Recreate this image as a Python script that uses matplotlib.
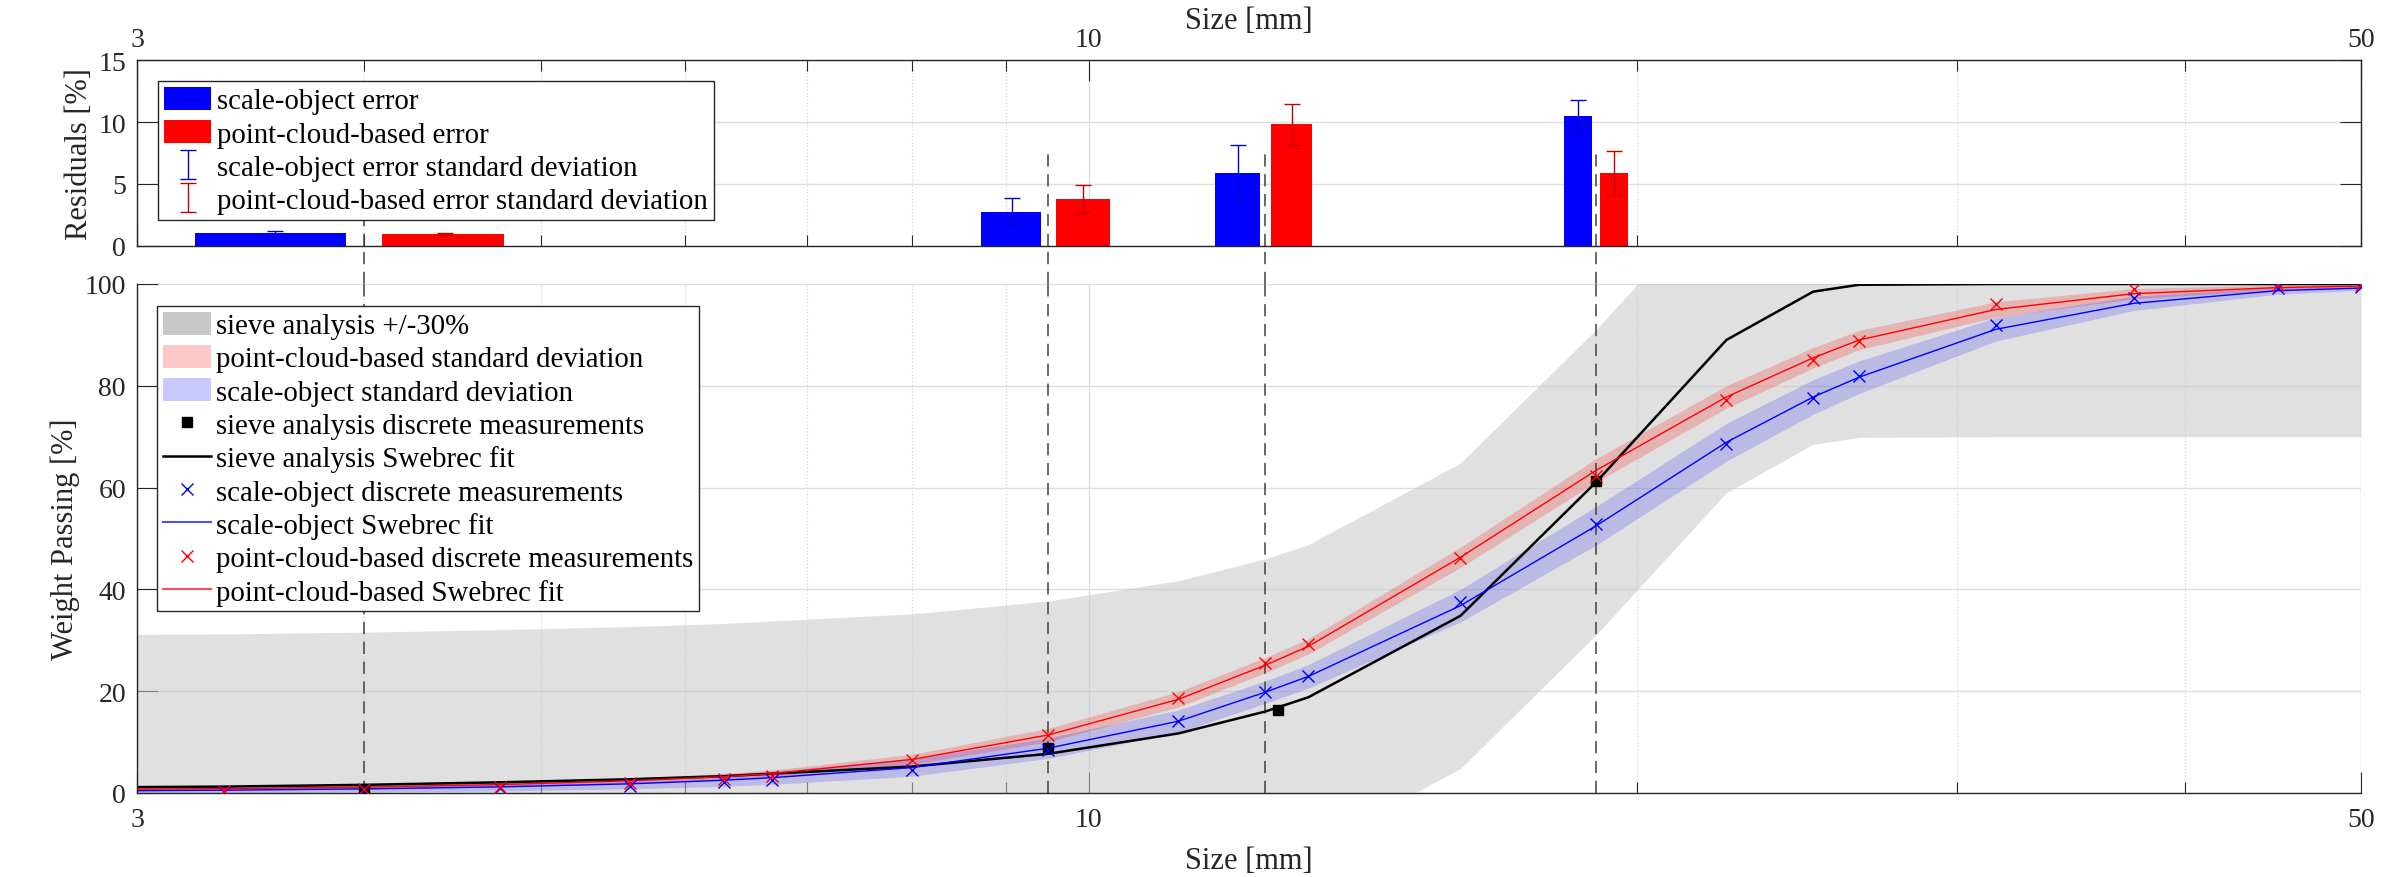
import numpy as np
import matplotlib
matplotlib.use('Agg')
import matplotlib.pyplot as plt
from matplotlib.patches import Patch
from matplotlib.lines import Line2D
from matplotlib.transforms import blended_transform_factory

plt.rcParams['font.family'] = ['Liberation Serif', 'DejaVu Serif']
txt_col = '#262626'

# residuals per sieve size (top panel)
sieve_sizes = [4, 9.5, 12.5, 19]
res_scale = [1.05, 2.75, 5.85, 10.45]
res_scale_std = [0.13, 1.10, 2.28, 1.35]
res_cloud = [0.95, 3.77, 9.80, 5.90]
res_cloud_std = [0.08, 1.13, 1.63, 1.80]

# sieve analysis
sieve_x = [4, 9.5, 12.7, 19]
sieve_y = [0.5, 8.9, 16.3, 61.3]

# Swebrec fits
fit_x = [3, 3.35, 4, 4.75, 5.6, 6.3, 6.7, 8, 9.5, 11.2, 12.5, 13.2, 16, 19,
         22.4, 25, 26.5, 31.5, 37.5, 45, 50]
fit_sieve = [1.15, 1.25, 1.6, 2.1, 2.7, 3.3, 3.8, 5.2, 7.7, 11.7, 16.0, 18.8,
             34.8, 61.1, 89.0, 98.5, 99.85, 100, 100, 100, 100]
fit_cloud = [0.75, 0.85, 1.15, 1.65, 2.4, 3.2, 3.8, 6.6, 11.4, 18.4, 25.1, 28.8,
             46.3, 63.4, 77.8, 85.5, 89.0, 95.0, 98.1, 99.3, 99.6]
fit_scale = [0.45, 0.55, 0.8, 1.2, 1.8, 2.5, 3.0, 5.0, 8.8, 14.1, 19.8, 22.9,
             36.8, 52.5, 68.9, 77.8, 81.7, 91.1, 96.2, 98.7, 99.2]
std_cloud = [0.3, 0.3, 0.35, 0.45, 0.55, 0.65, 0.7, 1.0, 1.3, 1.5, 1.5, 1.5,
             2.0, 2.3, 2.2, 2.0, 1.9, 1.5, 1.0, 0.5, 0.3]
std_scale = [0.5, 0.5, 0.6, 0.8, 1.0, 1.2, 1.3, 1.7, 2.0, 2.2, 2.2, 2.3,
             3.2, 3.8, 3.7, 3.4, 3.2, 2.3, 1.4, 0.7, 0.4]

# discrete measurements
meas_x = [3.35, 4, 4.75, 5.6, 6.3, 6.7, 8, 9.5, 11.2, 12.5, 13.2, 16, 19,
          22.4, 25, 26.5, 31.5, 37.5, 45, 50]
meas_cloud = [0.35, 0.7, 1.2, 2.0, 2.7, 3.4, 6.5, 11.3, 18.6, 25.5, 29.3, 46.1,
              62.3, 77.2, 85.1, 88.8, 96.0, 99.1, 99.9, 99.8]
meas_scale = [0.1, 0.5, 0.9, 1.3, 2.1, 2.6, 4.5, 8.5, 14.2, 19.8, 23.0, 37.5,
              52.8, 68.5, 77.6, 81.9, 91.9, 97.3, 99.3, 99.5]

fig = plt.figure(figsize=(23.92, 8.78), dpi=100)
ax1 = fig.add_axes([0.0573, 0.7187, 0.9298, 0.2118])
ax2 = fig.add_axes([0.0573, 0.0957, 0.9298, 0.5797])

minor_x = [4, 5, 6, 7, 8, 9, 20, 30, 40]


def style_axis(ax):
    ax.set_xscale('log')
    ax.set_xlim(3, 50)
    ax.set_xticks([3, 10, 50])
    ax.set_xticklabels(['3', '10', '50'])
    ax.set_xticks(minor_x, minor=True)
    ax.set_xticklabels([], minor=True)
    ax.set_axisbelow(True)
    ax.grid(True, which='major', color='#dedede', lw=1.0, ls='-')
    ax.grid(True, which='minor', axis='x', color='#d4d4d4', lw=0.9, ls=':')
    ax.tick_params(which='major', direction='in', length=15, width=0.8,
                   colors=txt_col, labelsize=20, pad=8)
    ax.tick_params(which='minor', direction='in', length=8, width=0.8,
                   colors=txt_col)
    for s in ax.spines.values():
        s.set_color(txt_col)
        s.set_linewidth(1.0)


leg_kw = dict(loc='upper left', borderaxespad=0, fontsize=20.8, frameon=True,
              fancybox=False, framealpha=1, edgecolor=txt_col, handlelength=1.65,
              handleheight=0.85, handletextpad=0.2, labelspacing=0.2,
              borderpad=0.2)

# ---------------- top: residuals ----------------
style_axis(ax1)
sz = np.array(sieve_sizes)
ax1.bar(sz - 0.43, res_scale, width=0.68, color='#0000ff', zorder=2)
ax1.bar(sz + 0.43, res_cloud, width=0.68, color='#ff0000', zorder=2)
eb1 = ax1.errorbar(sz - 0.43, res_scale, yerr=res_scale_std, fmt='none',
                   ecolor='#0000cc', elinewidth=1.0, capsize=6, capthick=1.0, zorder=3)
eb2 = ax1.errorbar(sz + 0.43, res_cloud, yerr=res_cloud_std, fmt='none',
                   ecolor='#c00000', elinewidth=1.0, capsize=6, capthick=1.0, zorder=3)
ax1.set_ylim(0, 15)
ax1.set_yticks([0, 5, 10, 15])
ax1.tick_params(axis='x', which='both', top=True, bottom=True,
                labeltop=True, labelbottom=False)
ax1.tick_params(axis='x', which='major', pad=6)
ax1.tick_params(axis='y', which='both', left=True, right=True)
ax1.xaxis.set_label_position('top')
ax1.set_xlabel('Size [mm]', fontsize=22, color=txt_col)
ax1.xaxis.set_label_coords(0.5, 1.17)
ax1.set_ylabel('Residuals [%]', fontsize=22, color=txt_col, labelpad=3)
for s in sieve_sizes:
    ax1.axvline(s, ymin=0, ymax=8 / 15, color='#404040', lw=1.1,
                dashes=(8, 5), zorder=1.8)

h_top = [Patch(facecolor='#0000ff', edgecolor='none'),
         Patch(facecolor='#ff0000', edgecolor='none'), eb1, eb2]
l_top = ['scale-object error', 'point-cloud-based error',
         'scale-object error standard deviation',
         'point-cloud-based error standard deviation']
leg1 = ax1.legend(h_top, l_top, bbox_to_anchor=(0.0094, 0.887), **leg_kw)
leg1.get_frame().set_linewidth(1.0)

# ---------------- bottom: weight passing ----------------
style_axis(ax2)
ax2.spines['top'].set_visible(False)
ax2.spines['right'].set_visible(False)
fx = np.array(fit_x)
fs = np.array(fit_sieve)
ax2.fill_between(fx, fs - 30, fs + 30, color='#c8c8c8', alpha=0.55,
                 lw=0, zorder=1)
ax2.fill_between(fx, np.array(fit_cloud) - std_cloud,
                 np.array(fit_cloud) + std_cloud, color='#ff0000',
                 alpha=0.2, lw=0, zorder=1.2)
ax2.fill_between(fx, np.array(fit_scale) - std_scale,
                 np.array(fit_scale) + std_scale, color='#0000ff',
                 alpha=0.17, lw=0, zorder=1.2)
for s in sieve_sizes:
    ax2.axvline(s, color='#404040', lw=1.1, dashes=(8, 5), zorder=1.8)
ax2.plot(fit_x, fit_sieve, color='black', lw=1.8, zorder=2.2)
ax2.plot(sieve_x, sieve_y, ls='none', marker='s', ms=7.5, color='black', zorder=3)
ax2.plot(fit_x, fit_scale, color='#0000ff', lw=1.0, zorder=2.3)
ax2.plot(meas_x, meas_scale, ls='none', marker='x', ms=8, mew=1.0,
         color='#0000ff', zorder=3)
ax2.plot(fit_x, fit_cloud, color='#ff0000', lw=1.0, zorder=2.4)
ax2.plot(meas_x, meas_cloud, ls='none', marker='x', ms=8, mew=1.0,
         color='#ff0000', zorder=3.1)
ax2.set_ylim(0, 100)
ax2.set_yticks([0, 20, 40, 60, 80, 100])
ax2.tick_params(axis='x', which='both', top=False, bottom=True)
ax2.tick_params(axis='x', which='major', pad=10)
ax2.tick_params(axis='y', which='both', left=True, right=False)
ax2.set_xlabel('Size [mm]', fontsize=22, color=txt_col, labelpad=10)
ax2.set_ylabel('Weight Passing [%]', fontsize=22, color=txt_col, labelpad=3)

h_bot = [Patch(facecolor='#c8c8c8', edgecolor='none'),
         Patch(facecolor='#ffc8c8', edgecolor='none'),
         Patch(facecolor='#c8c8ff', edgecolor='none'),
         Line2D([], [], ls='none', marker='s', ms=7.5, color='black'),
         Line2D([], [], color='black', lw=1.8),
         Line2D([], [], ls='none', marker='x', ms=8, mew=1.0, color='#0000ff'),
         Line2D([], [], color='#5050ff', lw=1.5),
         Line2D([], [], ls='none', marker='x', ms=8, mew=1.0, color='#ff0000'),
         Line2D([], [], color='#ff5050', lw=1.5)]
l_bot = ['sieve analysis +/-30%', 'point-cloud-based standard deviation',
         'scale-object standard deviation',
         'sieve analysis discrete measurements', 'sieve analysis Swebrec fit',
         'scale-object discrete measurements', 'scale-object Swebrec fit',
         'point-cloud-based discrete measurements',
         'point-cloud-based Swebrec fit']
leg2 = ax2.legend(h_bot, l_bot, bbox_to_anchor=(0.009, 0.957), **leg_kw)
leg2.get_frame().set_linewidth(1.0)

# dashed sieve lines crossing the gap between the two panels
tr = blended_transform_factory(ax2.transData, fig.transFigure)
gap_lo = 0.0957 + 0.5797
gap_hi = 0.7187
for s in sieve_sizes:
    fig.add_artist(Line2D([s, s], [gap_lo, gap_hi], transform=tr,
                          color='#404040', lw=1.1, dashes=(8, 5)))

fig.savefig('out.png', dpi=100)
